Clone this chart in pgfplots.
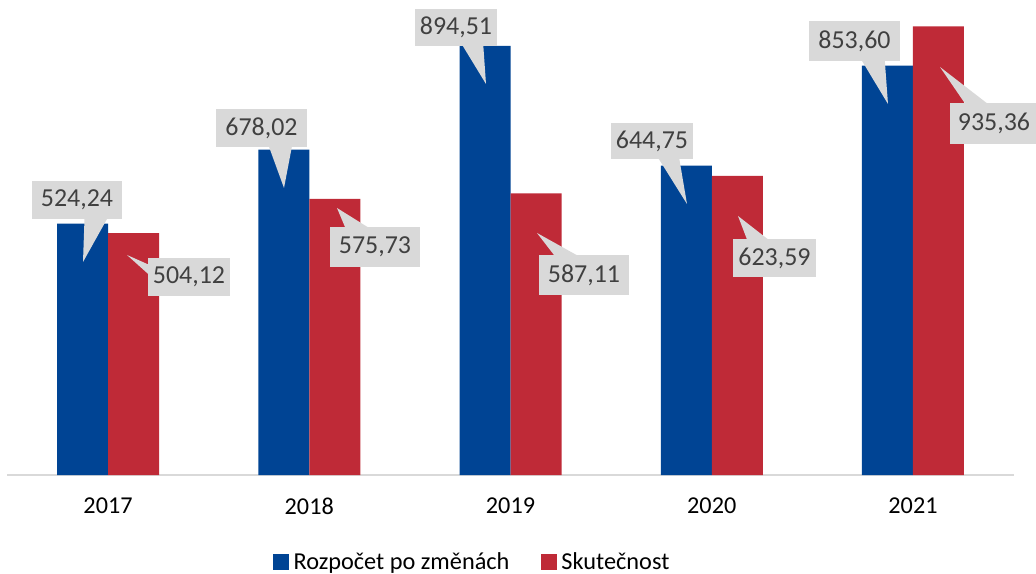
\documentclass[border=0pt]{standalone}
\usepackage{pgfplots}
\pgfplotsset{compat=1.18}
\usepackage{fontspec}
\setmainfont{Carlito}
\definecolor{barblue}{RGB}{0,68,148}
\definecolor{barred}{RGB}{191,42,55}
\definecolor{axisgray}{RGB}{217,217,217}
\definecolor{lblgray}{RGB}{217,217,217}
\definecolor{lbltext}{RGB}{64,64,64}
% callout in pixel coordinates: {l}{t}{r}{b}{tipx}{tipy}{text}
\newcommand{\callout}[7]{%
  \pgfmathsetmacro{\cw}{#3-#1}%
  \pgfmathsetmacro{\ch}{#4-#2}%
  \pgfmathsetmacro{\cdx}{#5-(#1+#3)/2}%
  \pgfmathsetmacro{\cdy}{#6-(#2+#4)/2}%
  \pgfmathsetmacro{\cdz}{abs(\cdy)-abs(\cdx*\ch/\cw)}%
  \fill[lblgray] (#1,#2) rectangle (#3,#4);
  \ifdim\cdz pt>0pt
    \pgfmathsetmacro{\xa}{#1+\cw*(\cdx>0?7:2)/12}%
    \pgfmathsetmacro{\xb}{#1+\cw*(\cdx>0?10:5)/12}%
    \pgfmathsetmacro{\ye}{\cdy>0?#4:#2}%
    \fill[lblgray] (\xa,\ye) -- (#5,#6) -- (\xb,\ye) -- cycle;
  \else
    \pgfmathsetmacro{\ya}{#2+\ch*(\cdy>0?7:2)/12}%
    \pgfmathsetmacro{\yb}{#2+\ch*(\cdy>0?10:5)/12}%
    \pgfmathsetmacro{\xe}{\cdx>0?#3:#1}%
    \fill[lblgray] (\xe,\ya) -- (#5,#6) -- (\xe,\yb) -- cycle;
  \fi
  \node[text=lbltext, font=\fontsize{26}{30}\selectfont, inner sep=0pt] at ({(#1+#3)/2},{(#2+#4)/2}) {#7};
}
\begin{document}
\begin{tikzpicture}
\useasboundingbox (0,0) rectangle (1036bp,574bp);
\begin{axis}[
  at={(7.4bp,99bp)}, anchor=south west,
  scale only axis, width=1006.25bp, height=475bp,
  xmin=-0.5, xmax=4.5, ymin=0, ymax=990.2,
  ybar=0pt, bar width=51bp,
  axis x line*=bottom, axis y line=none,
  x axis line style={-, draw=axisgray, line width=2bp},
  xtick=data, xticklabels={2017,2018,2019,2020,2021},
  major tick length=0pt,
  xticklabel style={font=\fontsize{24.3}{28}\selectfont, anchor=north, inner sep=0pt, yshift=-23bp, text=black},
  legend columns=2,
  legend style={at={(0.4632,-0.1825)}, anchor=center, draw=none, fill=none,
    font=\fontsize{24.4}{26}\selectfont,
    nodes={inner ysep=0pt, inner xsep=4.5bp, anchor=west},
    /tikz/every even column/.append style={column sep=27bp}},
  legend image code/.code={\fill[#1, draw=none] (0bp,-8bp) rectangle (16bp,8bp);},
  clip=false,
]
\addplot[fill=barblue, draw=none] coordinates {(0,524.24) (1,678.02) (2,894.51) (3,644.75) (4,853.60)};
\addlegendentry{Rozpočet po změnách}
\addplot[fill=barred, draw=none] coordinates {(0,504.12) (1,575.73) (2,587.11) (3,623.59) (4,935.36)};
\addlegendentry{Skutečnost}
\end{axis}
\begin{scope}[yshift=574bp, x=1bp, y=-1bp]
\callout{32}{181}{122}{219}{83}{262}{524,24}
\callout{148}{258}{230}{296}{127}{255}{504,12}
\callout{216}{109}{307}{147}{284}{188}{678,02}
\callout{330}{227}{420}{267}{337}{208}{575,73}
\callout{415}{9}{497}{46}{486}{84}{894,51}
\callout{539}{255}{629}{295}{537}{233}{587,11}
\callout{611}{123}{693}{159}{687}{204}{644,75}
\callout{733}{239}{816}{277}{738}{216}{623,59}
\callout{809}{21}{900}{61}{888}{104}{853,60}
\callout{950}{103}{1038}{144}{940}{67}{935,36}
\end{scope}
\end{tikzpicture}
\end{document}
